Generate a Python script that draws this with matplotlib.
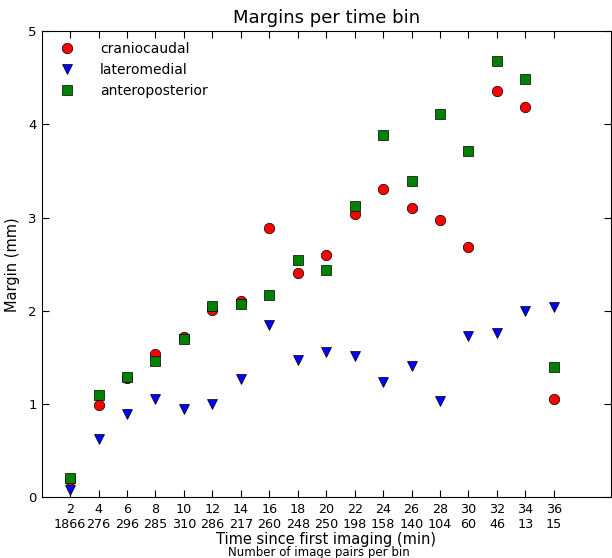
import numpy as np
import matplotlib
matplotlib.use("Agg")
import matplotlib.pyplot as plt

# time bins (min) and number of image pairs per bin
time_bins = [2, 4, 6, 8, 10, 12, 14, 16, 18, 20, 22, 24, 26, 28, 30, 32, 34, 36]
n_pairs = [1866, 276, 296, 285, 310, 286, 217, 260, 248, 250, 198, 158, 140, 104, 60, 46, 13, 15]

# margins (mm)
craniocaudal = [0.18, 0.99, 1.28, 1.54, 1.72, 2.01, 2.11, 2.89, 2.41, 2.60, 3.04, 3.31,
                3.10, 2.97, 2.69, 4.36, 4.19, 1.05]
lateromedial = [0.08, 0.62, 0.89, 1.05, 0.95, 1.00, 1.27, 1.85, 1.47, 1.56, 1.52, 1.24,
                1.41, 1.03, 1.73, 1.76, 2.00, 2.04]
anteroposterior = [0.21, 1.10, 1.29, 1.46, 1.70, 2.05, 2.07, 2.17, 2.54, 2.44, 3.12, 3.89,
                   3.39, 4.11, 3.72, 4.68, 4.49, 1.40]

fig = plt.figure(figsize=(6.12, 5.58), dpi=100)
ax = fig.add_axes([0.068, 0.109, 0.93, 0.835])

ax.plot(time_bins, craniocaudal, 'o', color="red", markersize=7.5,
        markeredgecolor="black", markeredgewidth=0.5, label="craniocaudal")
ax.plot(time_bins, lateromedial, 'v', color="blue", markersize=7.5,
        markeredgecolor="black", markeredgewidth=0.5, label="lateromedial")
ax.plot(time_bins, anteroposterior, 's', color="green", markersize=6.8,
        markeredgecolor="black", markeredgewidth=0.5, label="anteroposterior")

ax.set_xlim(0, 40)
ax.set_ylim(0, 5)
ax.set_xticks(time_bins)
ax.set_xticklabels(["{}\n{}".format(t, n) for t, n in zip(time_bins, n_pairs)])
ax.set_yticks(range(0, 6))
ax.tick_params(direction="in", top=True, right=True, labelsize=9.5, length=5)
ax.tick_params(axis="x", pad=4, labelsize=9.2)

ax.set_title("Margins per time bin", fontsize=13)
ax.set_ylabel("Margin (mm)", fontsize=10.5, labelpad=6)
ax.set_xlabel("Time since first imaging (min)", fontsize=10.5, labelpad=1)
fig.text(0.521, 0.004, "Number of image pairs per bin", fontsize=8.5, ha="center")

ax.legend(loc="upper left", numpoints=1, frameon=False, fontsize=10,
          handletextpad=1.4, borderaxespad=0.4)

fig.savefig("out.png", dpi=100)
plt.close()
